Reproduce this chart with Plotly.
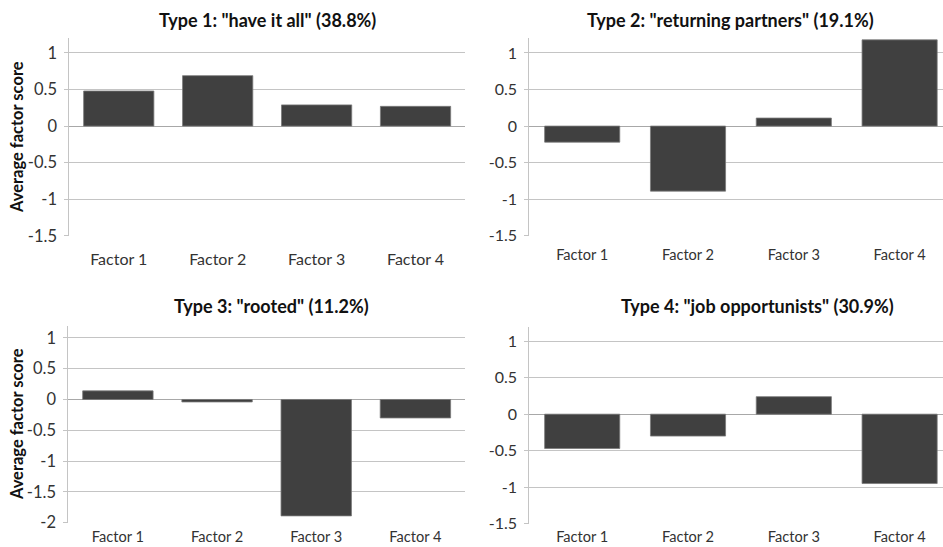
import plotly.graph_objects as go

categories = ["Factor 1", "Factor 2", "Factor 3", "Factor 4"]
type1_values = [0.48, 0.69, 0.29, 0.27]
type2_values = [-0.22, -0.89, 0.11, 1.18]
type3_values = [0.14, -0.04, -1.89, -0.30]
type4_values = [-0.47, -0.30, 0.24, -0.95]

titles = [
    'Type 1: "have it all" (38.8%)',
    'Type 2: "returning partners" (19.1%)',
    'Type 3: "rooted" (11.2%)',
    'Type 4: "job opportunists" (30.9%)',
]
y_ticks_12 = [-1.5, -1, -0.5, 0, 0.5, 1]
y_ticks_3 = [-2, -1.5, -1, -0.5, 0, 0.5, 1]
y_tick_text_12 = ["-1.5", "-1", "-0.5", "0", "0.5", "1"]
y_tick_text_3 = ["-2", "-1.5", "-1", "-0.5", "0", "0.5", "1"]
y_title = "Average factor score"

W, H = 943, 547          # reference frame used for the layout fractions
FIG_H = 558              # rendered height (the photo compresses it to ~547)
FONT = "Lato"
BAR = "#404040"
GRID = "#c4c4c4"

# panel geometry (pixels in the 943x547 frame): left, right, top, bottom
panels = [
    dict(vals=type1_values, l=69.3, r=465, t=38.3, b=235.3, yr=[-1.5, 1.2], xr=[-0.5, 3.5],
         tv=y_ticks_12, tt=y_tick_text_12, yfs=16.5, xfs=16, xso=12),
    dict(vals=type2_values, l=529.3, r=943, t=38.3, b=235.3, yr=[-1.5, 1.2], xr=[-0.5, 3.41],
         tv=y_ticks_12, tt=y_tick_text_12, yfs=16, xfs=14.6, xso=9),
    dict(vals=type3_values, l=68.3, r=465, t=325, b=521.7, yr=[-2, 1.2], xr=[-0.5, 3.5],
         tv=y_ticks_3, tt=y_tick_text_3, yfs=16.5, xfs=14.6, xso=4),
    dict(vals=type4_values, l=529.3, r=943, t=326, b=522.7, yr=[-1.5, 1.2], xr=[-0.5, 3.41],
         tv=y_ticks_12, tt=y_tick_text_12, yfs=16, xfs=14.6, xso=3),
]
title_pos = [(267, 20), (730, 20), (271, 305), (757, 305)]

fig = go.Figure()
layout = dict(
    width=W, height=FIG_H, autosize=False, margin=dict(l=0, r=0, t=0, b=0, pad=0),
    paper_bgcolor="white", plot_bgcolor="white", showlegend=False,
    bargap=0.29, font=dict(family=FONT, color="#222222"),
)
annotations = []
for i, p in enumerate(panels):
    n = i + 1
    xa = "x" if n == 1 else f"x{n}"
    ya = "y" if n == 1 else f"y{n}"
    fig.add_trace(go.Bar(
        x=categories, y=p["vals"], xaxis=xa, yaxis=ya,
        marker=dict(color=BAR, line=dict(color="#7a7a7a", width=0.8)),
        hoverinfo="x+y",
    ))
    layout["xaxis" if n == 1 else f"xaxis{n}"] = dict(
        domain=[p["l"] / W, p["r"] / W], anchor=ya, range=p["xr"],
        type="category", showgrid=False, zeroline=False, showline=False,
        ticks="", tickfont=dict(size=p["xfs"], family=FONT, color="#333333"),
        ticklabelstandoff=p["xso"],
    )
    layout["yaxis" if n == 1 else f"yaxis{n}"] = dict(
        domain=[1 - p["b"] / H, 1 - p["t"] / H], anchor=xa, range=p["yr"],
        tickvals=p["tv"], ticktext=p["tt"],
        showgrid=True, gridcolor=GRID, gridwidth=1,
        zeroline=True, zerolinecolor="#a8a8a8", zerolinewidth=1,
        showline=True, linecolor=GRID, linewidth=1,
        ticks="outside", ticklen=4, tickcolor=GRID,
        tickfont=dict(size=p["yfs"], family=FONT, color="#333333"),
        ticklabelstandoff=4,
    )
    tx, ty = title_pos[i]
    annotations.append(dict(
        text=f"<b>{titles[i]}</b>", x=tx / W, y=1 - ty / H, xref="paper", yref="paper",
        xanchor="center", yanchor="middle", showarrow=False,
        font=dict(size=18, family=FONT, color="#111111"),
    ))
for cy in [(38.3 + 235.3) / 2, (325 + 521.7) / 2]:
    annotations.append(dict(
        text=f"<b>{y_title}</b>", x=17 / W, y=1 - cy / H, xref="paper", yref="paper",
        xanchor="center", yanchor="middle", textangle=-90, showarrow=False,
        font=dict(size=16.5, family=FONT, color="#111111"),
    ))
layout["annotations"] = annotations
fig.update_layout(**layout)
fig.write_html(
    "out.html",
    config={"displayModeBar": False},
    post_script=(
        "document.body.style.margin='0px';"
        "var gd=document.getElementById('{plot_id}');"
        "gd.style.position='fixed';gd.style.top='0px';gd.style.left='0px';"
    ),
)
